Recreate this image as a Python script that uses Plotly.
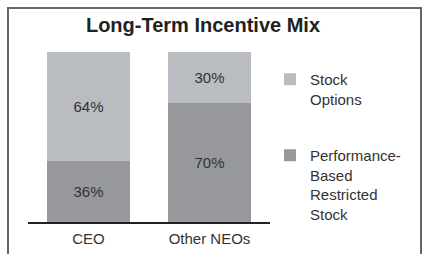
import plotly.graph_objects as go

categories = ["CEO", "Other NEOs"]
series_names = ["Performance-<br>Based<br>Restricted<br>Stock", "Stock<br>Options"]
perf_values = [36, 70]
option_values = [64, 30]
title_text = "Long-Term Incentive Mix"

W, H = 423, 254
L, R, T, B = 28, 153, 52, 32
pw, ph = W - L - R, H - T - B

def px(x):
    return (x - L) / pw

def py(y):
    return (H - B - y) / ph

fig = go.Figure()
fig.add_trace(go.Bar(
    x=categories, y=perf_values, name=series_names[0],
    marker=dict(color="#96989b", line=dict(width=0)),
    text=[f"{v}%" for v in perf_values], textposition="inside",
    insidetextanchor="middle",
    textfont=dict(family="Liberation Sans, Arial", size=15, color="#333333"),
    legendgroup="b", legendrank=2, hoverinfo="skip",
))
fig.add_trace(go.Bar(
    x=categories, y=option_values, name=series_names[1],
    marker=dict(color="#b9bcc0", line=dict(width=0)),
    text=[f"{v}%" for v in option_values], textposition="inside",
    insidetextanchor="middle",
    textfont=dict(family="Liberation Sans, Arial", size=15, color="#333333"),
    legendgroup="a", legendrank=1, hoverinfo="skip",
))

fig.update_layout(
    width=W, height=H,
    margin=dict(l=L, r=R, t=T, b=B, pad=0, autoexpand=False),
    barmode="stack", bargap=0.306,
    paper_bgcolor="white", plot_bgcolor="white",
    font=dict(family="Liberation Sans, Arial", size=15, color="#333333"),
    title=dict(text="<b>" + title_text + "</b>", x=203 / W, xanchor="center",
               xref="container", yref="container",
               y=1 - 25 / H, yanchor="middle",
               font=dict(family="Liberation Sans, Arial", size=20, color="#222222")),
    xaxis=dict(showline=True, linecolor="#222222", linewidth=1.5, ticks="",
               showgrid=False, range=[-0.5, 1.5], ticklabelstandoff=2,
               tickfont=dict(size=15, color="#333333")),
    yaxis=dict(visible=False, range=[0, 100], showgrid=False),
    legend=dict(x=px(270), xanchor="left", y=py(63), yanchor="top",
                traceorder="grouped", tracegroupgap=34, valign="top",
                font=dict(size=15, color="#333333"), bgcolor="rgba(0,0,0,0)"),
    showlegend=True,
    shapes=[dict(type="rect", xref="paper", yref="paper",
                 x0=px(8), x1=px(421), y0=py(260), y1=py(8),
                 line=dict(color="#666666", width=2), fillcolor="rgba(0,0,0,0)",
                 layer="below")],
)

fig.write_html(
    "out.html",
    config={"displayModeBar": False, "staticPlot": True},
    post_script="document.body.style.margin='0';document.body.style.overflow='hidden';",
)
